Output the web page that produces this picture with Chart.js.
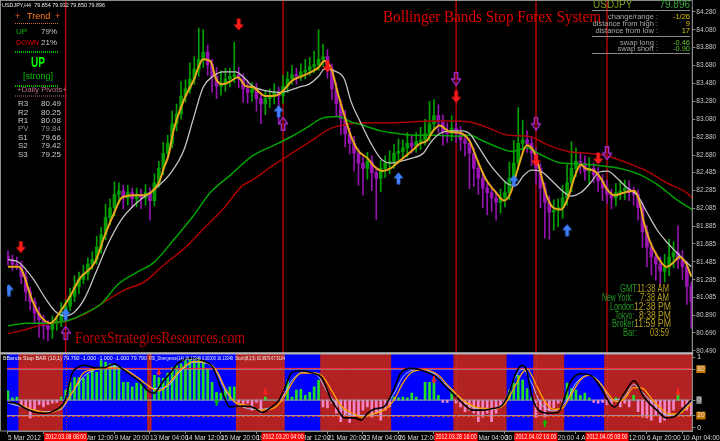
<!DOCTYPE html>
<html lang="en">
<head>
  <meta charset="UTF-8">
  <title>Bollinger Bands Stop Forex System</title>
  <style>
    html, body { margin: 0; padding: 0; background: #000; }
    #wrap { width: 720px; height: 441px; }
  </style>
  <script src="https://cdn.jsdelivr.net/npm/chart.js"></script>
</head>
<body>
  <div id="wrap"><canvas id="fx"></canvas></div>
  <script>
    // USDJPY H4, one value per bar (bar 0 = 5 Mar 2012 20:00)
    const firstOpen = 81.55;
    const closes = [
      81.51, 81.46, 81.45, 81.32, 81.15, 81.04, 80.91, 80.84, 80.77, 80.73,
      80.80, 80.82, 80.93, 80.99, 81.10, 81.21, 81.29, 81.35, 81.46, 81.51,
      81.65, 81.79, 81.98, 82.09, 82.24, 82.28, 82.20, 82.26, 82.19, 82.24,
      82.20, 82.26, 82.17, 82.37, 82.53, 82.70, 82.81, 83.03, 83.14, 83.34,
      83.42, 83.53, 83.64, 83.75, 83.83, 83.69, 83.56, 83.45, 83.47, 83.53,
      83.56, 83.58, 83.53, 83.42, 83.38, 83.42, 83.31, 83.25, 83.31, 83.34,
      83.38, 83.34, 83.45, 83.53, 83.58, 83.56, 83.61, 83.63, 83.67, 83.69,
      83.75, 83.78, 83.64, 83.42, 83.25, 83.09, 82.92, 82.81, 82.70, 82.59,
      82.53, 82.61, 82.48, 82.42, 82.53, 82.59, 82.61, 82.70, 82.72, 82.76,
      82.81, 82.78, 82.83, 82.85, 82.92, 83.03, 83.12, 83.05, 82.94, 82.92,
      82.98, 82.92, 82.85, 82.81, 82.70, 82.53, 82.42, 82.31, 82.26, 82.20,
      82.15, 82.20, 82.26, 82.42, 82.59, 82.81, 82.85, 82.81, 82.70, 82.53,
      82.31, 82.15, 82.04, 82.06, 82.09, 82.20, 82.37, 82.53, 82.61, 82.59,
      82.50, 82.53, 82.46, 82.39, 82.31, 82.24, 82.20, 82.26, 82.28, 82.31,
      82.26, 82.24, 82.09, 81.82, 81.65, 81.54, 81.46, 81.38, 81.43, 81.54,
      81.59, 81.51, 81.43, 81.21, 81.04
    ];
    // wick lengths beyond the body, in pips
    const wickUp = [
      6, 5, 8, 4, 6, 5, 4, 7, 5, 6,   8, 6, 10, 7, 9, 12, 8, 10, 7, 9,
      12, 8, 15, 10, 14, 9, 6, 8, 5, 7,   6, 9, 5, 10, 8, 12, 9, 14, 11, 16,
      10, 18, 14, 35, 25, 8, 6, 10, 15, 12,   9, 36, 8, 6, 10, 7, 6, 5, 9, 8,
      10, 6, 12, 8, 10, 7, 9, 12, 10, 15,   33, 14, 8, 6, 7, 5, 9, 6, 8, 5,
      7, 10, 6, 5, 9, 8, 12, 10, 14, 9,   12, 8, 10, 14, 16, 25, 18, 12, 8, 10,
      14, 9, 8, 6, 5, 6, 7, 8, 6, 5,   7, 10, 12, 18, 25, 40, 22, 10, 8, 6,
      5, 6, 7, 12, 10, 14, 20, 30, 15, 10,   8, 12, 6, 8, 7, 9, 6, 10, 12, 9,
      8, 6, 5, 6, 7, 5, 6, 8, 14, 20,   12, 30, 10, 6, 5
    ];
    const wickDn = [
      6, 7, 5, 8, 10, 9, 12, 20, 15, 13,   10, 8, 6, 7, 5, 6, 8, 5, 7, 6,
      5, 7, 6, 8, 9, 10, 12, 8, 10, 9,   12, 8, 22, 6, 5, 7, 6, 5, 8, 6,
      7, 5, 6, 8, 9, 12, 18, 14, 10, 8,   9, 7, 10, 15, 12, 10, 14, 22, 12, 10,
      9, 31, 8, 7, 6, 9, 5, 8, 6, 7,   6, 8, 10, 12, 14, 18, 15, 12, 20, 25,
      30, 12, 20, 46, 15, 10, 12, 8, 9, 7,   10, 8, 7, 9, 6, 8, 7, 12, 15, 10,
      8, 10, 12, 14, 40, 20, 18, 22, 25, 15,   20, 12, 10, 8, 9, 7, 8, 10, 14, 18,
      22, 40, 30, 20, 18, 12, 8, 10, 9, 12,   10, 15, 9, 12, 14, 10, 12, 9, 8, 10,
      9, 12, 14, 18, 22, 20, 18, 15, 12, 10,   12, 10, 14, 20, 30
    ];

    // moving averages, [bar, price]
    const fastMA = [[0,81.43],[2.4,81.43],[5.6,81.04],[7.3,80.88],[9.6,80.80],[11.8,80.93],[14,81.10],[16.2,81.30],[19.6,81.48],[21.8,81.78],[24,82.04],[25.6,82.20],[28.4,82.23],[30.7,82.23],[32.2,82.26],[34,82.37],[35.1,82.53],[36.2,82.68],[37.3,82.95],[39.6,83.29],[41.8,83.51],[44,83.75],[45.6,83.73],[46.9,83.53],[48.4,83.47],[50,83.50],[51.8,83.55],[53.6,83.45],[55.1,83.44],[58,83.34],[59.6,83.34],[61.1,83.36],[62.4,83.42],[64,83.51],[66.2,83.56],[68.4,83.61],[70,83.66],[71.3,83.73],[72.9,83.64],[74.4,83.36],[76.2,83.06],[77.3,82.89],[78.9,82.73],[81.1,82.64],[82.4,82.56],[84.4,82.50],[86.2,82.53],[88.4,82.62],[91.1,82.73],[92.9,82.81],[94.4,82.84],[95.8,82.95],[97.3,83.01],[99.6,82.94],[101.8,82.93],[104,82.84],[105.8,82.62],[107.8,82.40],[110,82.26],[111.8,82.17],[113.3,82.26],[115.1,82.56],[116.9,82.79],[118.4,82.73],[119.6,82.56],[121.3,82.24],[122.9,82.09],[124.7,82.07],[126.2,82.20],[127.8,82.45],[129.1,82.57],[130.2,82.53],[132.2,82.50],[133.6,82.42],[135.1,82.29],[136.7,82.23],[138.9,82.26],[141.1,82.28],[142.2,82.18],[143.3,81.93],[144.7,81.71],[146.2,81.56],[148.4,81.43],[150,81.48],[151.3,81.54],[152.9,81.46],[154,81.32]];
    const slowMA = [[0,81.51],[2.4,81.48],[5.6,81.30],[8.4,81.08],[10.7,80.93],[12.9,80.88],[15.1,80.93],[17.3,81.08],[19.6,81.34],[22.4,81.67],[25.6,81.96],[29.1,82.15],[32.9,82.29],[36.7,82.48],[39.6,82.73],[41.8,83.09],[44,83.44],[46.2,83.56],[48.4,83.61],[51.3,83.61],[52.9,83.56],[55.1,83.45],[58,83.40],[61.1,83.38],[63.3,83.40],[65.6,83.44],[67.8,83.47],[70,83.56],[71.3,83.64],[73.6,83.62],[75.8,83.53],[77.3,83.28],[79.6,83.03],[81.8,82.81],[84,82.64],[86.2,82.59],[88.4,82.61],[90.7,82.64],[93.6,82.70],[95.1,82.81],[97.3,82.92],[99.6,82.95],[102.4,82.95],[104,82.92],[106.2,82.76],[108.4,82.59],[110.7,82.45],[112.9,82.35],[114.4,82.34],[116.2,82.45],[118,82.51],[120,82.50],[122.4,82.40],[124.7,82.29],[126.9,82.22],[129.1,82.26],[131.3,82.37],[133.3,82.49],[135.1,82.50],[137.3,82.42],[139.6,82.31],[141.8,82.23],[144,82.04],[146.2,81.85],[148.4,81.71],[150.7,81.59],[152.9,81.48],[154,81.43]];
    const trendMA = [[0,80.77],[4,80.80],[8.4,80.80],[12.9,80.82],[17.3,80.91],[21.1,81.02],[24.7,81.23],[29.1,81.37],[32.9,81.48],[37.3,81.73],[41.8,82.00],[45.6,82.26],[50,82.45],[55.1,82.67],[59.6,82.78],[64,82.89],[67.8,83.00],[70.7,83.09],[74.4,83.11],[77.3,83.05],[80.2,83.01],[84,82.95],[87.8,82.92],[92.2,82.90],[96.7,82.90],[101.1,82.89],[104,82.90],[106.9,82.84],[110.7,82.76],[113.6,82.72],[116.9,82.76],[120.2,82.68],[124.7,82.59],[129.1,82.58],[133.6,82.56],[138,82.53],[142.4,82.46],[146.9,82.33],[150.7,82.18],[154.2,82.07]];
    const longMA = [[0,80.68],[4,80.73],[8.4,80.79],[12.9,80.82],[17.3,80.90],[21.8,81.04],[26.2,81.17],[30.7,81.26],[35.1,81.45],[39.6,81.63],[44,81.85],[48.4,82.07],[52.9,82.34],[55.1,82.40],[59.6,82.56],[64,82.70],[68.4,82.84],[72.9,82.98],[77.3,83.03],[81.8,83.04],[86.2,83.04],[90.7,83.05],[95.1,83.06],[99.6,83.06],[104,83.05],[108.4,82.98],[112.9,82.90],[117.3,82.89],[121.8,82.79],[126.2,82.72],[130.7,82.70],[135.1,82.67],[139.6,82.59],[144,82.50],[148.4,82.37],[152.9,82.26],[154.2,82.20]];

    // signal arrows, [bar, price]
    const sellArrows = [[2.9,81.65],[52,84.14],[72,83.67],[101,83.33],[119,82.62],[133,82.64]];
    const buyArrows = [[0.2,81.17],[13,80.90],[61,83.17],[88,82.42],[114,82.39],[126,81.84]];
    const exitUp = [[13,80.69],[62,83.03]];
    const exitDown = [[101,83.53],[119,83.03],[135,82.70]];

    // lower window: trend zones (b = blue, r = red) as runs of bars
    const zoneColor = ['b','r','b','r','b','r','b','r','b','r','b','r','b','r'];
    const zoneLen   = [3, 10, 19, 1, 19, 11, 8, 16, 14, 12, 6, 7, 9, 20];
    const histBase = 40;
    const hist = [
      12, 3, 4, -6, -10, -23, -13, -6, -9, -6,   -4, -3, 4, 13, 23, 29, 29, 28, 33, 41,
      36, 51, 49, 47, 45, 42, 23, 23, 17, 22,   23, 15, 0, 32, 29, 28, 35, 42, 45, 47,
      51, 54, 51, 54, 51, 41, 23, 10, 9, 13,   17, 17, -3, -6, -4, -13, -3, -17, 4, 0,
      0, 0, -1, 26, 4, 13, 14, 6, 10, 17,   26, -9, -10, -4, -17, -28, -19, -29, -22, -19,
      -13, -9, -22, -17, -26, -13, -9, 4, 3, 4,   3, 9, 4, 0, 23, 23, 28, 6, -3, -3,
      13, -4, -9, -15, -13, -17, -28, -22, -17, -28,   -17, -9, -4, 13, 22, 32, 26, 15, 4, -22,
      -13, -22, -13, -10, -4, -3, 22, 15, 13, 6,   9, 3, -3, -4, -3, -6, -6, 3, -9, -4,
      -9, 6, -15, -22, -23, -26, -19, -29, -26, -23,   -13, 9, -9, -13, -19
    ];
    const stochMain = [[0,37],[1.8,36],[4,29],[6.2,24],[8.4,23],[10.7,27],[12.9,40],[14.4,74],[15.6,82],[17.3,85],[19.6,82],[21.8,82],[24,87],[25.6,81],[27.8,72],[30,62],[31.3,53],[32.9,49],[34.7,62],[36.7,76],[38.4,88],[41.1,94],[44,91],[46.2,82],[48.4,49],[50,31],[51.3,32],[54.4,32],[55.8,29],[57.3,24],[58.9,29],[61.1,40],[62.4,56],[64,76],[66.2,78],[69.1,74],[70.7,69],[72.9,40],[74.4,27],[75.8,17],[78,17],[79.6,14],[81.1,23],[82.9,29],[84.7,31],[86.9,53],[88.4,74],[90.7,81],[93.6,78],[96.7,69],[98.9,56],[100.2,49],[102.4,36],[104.7,27],[106.9,27],[109.1,29],[111.3,33],[112.9,49],[114.4,74],[115.8,85],[116.9,78],[118,46],[119.6,27],[121.8,23],[124,24],[125.6,46],[126.9,65],[129.1,74],[131.3,72],[133.6,56],[135.1,40],[136.7,31],[138.9,49],[141.1,65],[143.3,44],[146.2,27],[148.4,17],[150,18],[151.8,27],[154,40]];
    const stochSignal = [[0,38],[3,33],[6,27],[9,24],[12,30],[15,55],[17,75],[20,80],[23,82],[26,80],[29,70],[32,57],[34,52],[36,60],[39,80],[42,90],[45,88],[47,78],[49,55],[51,38],[54,33],[57,27],[60,30],[62,42],[64,62],[66,75],[69,75],[71,70],[73,52],[75,33],[78,22],[80,18],[82,22],[85,28],[87,40],[89,62],[91,76],[94,79],[97,72],[99,60],[101,48],[103,38],[106,30],[109,29],[112,35],[114,55],[116,76],[117,80],[119,60],[121,38],[123,28],[125,30],[127,48],[129,66],[131,72],[133,65],[135,50],[137,38],[139,42],[141,56],[143,55],[145,42],[147,30],[149,22],[151,22],[153,30],[154,36]];
    const rsiLine = [[0,36],[4,30],[8,25],[12,28],[14,45],[17,70],[20,80],[24,84],[27,78],[30,66],[33,55],[36,58],[39,78],[42,89],[45,87],[47,76],[49,52],[52,34],[56,28],[59,30],[62,45],[64,66],[67,76],[70,70],[72,50],[75,30],[78,20],[81,20],[84,28],[87,48],[89,70],[92,79],[96,74],[99,58],[102,42],[105,30],[109,28],[112,40],[114,66],[116,80],[118,62],[120,36],[123,26],[126,40],[128,62],[131,72],[134,58],[136,40],[139,45],[141,60],[143,50],[146,32],[149,20],[152,26],[154,38]];
    const osMarkRed = [[34,76],[58,50],[96,66],[151,50]];
    const osMarkGreen = [[47,37],[121,10]];
    const osLevels = [80, 40, 20];

    // axes
    const priceTicks = [84.28, 84.08, 83.88, 83.68, 83.48, 83.28, 83.08, 82.88, 82.68, 82.485,
                        82.285, 82.085, 81.885, 81.685, 81.485, 81.285, 81.085, 80.89, 80.69, 80.49];
    const priceTickText = ['84.280','84.080','83.880','83.680','83.480','83.280','83.080','82.880','82.680','82.485',
                           '82.285','82.085','81.885','81.685','81.485','81.285','81.085','80.890','80.690','80.490'];
    const osTicks = [95, 80, 40, 20, 4];
    const osTickText = ['1', '80', '0', '20', '0'];
    const osTickBox = ['', '#c87800', '#7a7a7a', '#c87800', ''];
    const xTickIdx = [0, 8, 16, 24, 32, 40, 48, 56, 64, 72, 80, 88, 96, 104, 112, 120, 128, 136, 144, 152];
    const xTickText = ['5 Mar 2012', '7 Mar 04:00', '8 Mar 12:00', '9 Mar 20:00', '13 Mar 04:00', '14 Mar 12:00',
                       '15 Mar 20:00', '19 Mar 04:00', '20 Mar 12:00', '21 Mar 20:00', '23 Mar 04:00', '26 Mar 12:00',
                       '27 Mar 20:00', '29 Mar 04:00', '30 Mar 12:00', '2 Apr 20:00', '4 Apr 04:00', '5 Apr 12:00',
                       '6 Apr 20:00', '10 Apr 04:00'];
    const markIdx = [13, 62, 101, 119, 135];
    const markText = ['2012.03.08 08:00', '2012.03.20 04:00', '2012.03.28 16:00', '2012.04.02 16:00', '2012.04.05 08:00'];

    const xMin = -0.22, xMax = 154.22;

    // ---- build datasets ----
    const opens = closes.map((c, i) => i === 0 ? firstOpen : closes[i - 1]);
    const isBull = closes.map((c, i) => c >= opens[i]);
    const bodies = closes.map((c, i) => ({ x: i, y: [opens[i], c] }));
    const wicks = closes.map((c, i) => ({
      x: i,
      y: [Math.min(opens[i], c) - wickDn[i] / 100, Math.max(opens[i], c) + wickUp[i] / 100]
    }));

    const zoneOfBar = [];
    zoneColor.forEach((z, k) => { for (let n = 0; n < zoneLen[k]; n++) zoneOfBar.push(z); });

    const toXY = arr => arr.map(([x, y]) => ({ x, y }));

    function arrowImage(up, color, hollow, w, h) {
      const c = document.createElement('canvas');
      c.width = w; c.height = h;
      const g = c.getContext('2d');
      const s = w / 12, t = h / 14;
      const pts = [[4, 0.5], [8, 0.5], [8, 7], [11.5, 7], [6, 13.5], [0.5, 7], [4, 7]];
      g.beginPath();
      pts.forEach(([px, py], k) => {
        const yy = (up ? 14 - py : py) * t;
        if (k) g.lineTo(px * s, yy); else g.moveTo(px * s, yy);
      });
      g.closePath();
      if (hollow) { g.strokeStyle = color; g.lineWidth = 1.4; g.stroke(); }
      else { g.fillStyle = color; g.fill(); }
      return c;
    }
    const imgSell = arrowImage(false, '#ff1a1a', false, 11, 13);
    const imgBuy = arrowImage(true, '#3f7fff', false, 11, 13);
    const imgExitUp = arrowImage(true, '#a52ac8', true, 10, 14);
    const imgExitDn = arrowImage(false, '#a52ac8', true, 10, 14);
    const imgSmallRed = arrowImage(false, '#ff2020', false, 6, 8);
    const imgSmallGreen = arrowImage(true, '#00c000', false, 6, 8);

    const marks = (data, img, axis) => ({
      type: 'line', data: toXY(data), yAxisID: axis, showLine: false,
      pointStyle: img, pointRadius: 6, order: 5
    });
    const maLine = (data, color, width, order) => ({
      type: 'line', data: toXY(data), yAxisID: 'y', borderColor: color, borderWidth: width,
      pointRadius: 0, cubicInterpolationMode: 'monotone', order
    });
    const osLine = (data, color, width, order) => ({
      type: 'line', data: toXY(data), yAxisID: 'y2', borderColor: color, borderWidth: width,
      pointRadius: 0, cubicInterpolationMode: 'monotone', order
    });

    const datasets = [
      // lower window
      {
        type: 'bar', yAxisID: 'y2', grouped: false, order: 100, barThickness: 5,
        data: zoneOfBar.map((z, i) => ({ x: i, y: [0, 101] })),
        backgroundColor: zoneOfBar.map(z => z === 'b' ? '#0000fe' : '#b22222')
      },
      {
        type: 'bar', yAxisID: 'y2', grouped: false, order: 90, barThickness: 2,
        data: hist.map((v, i) => ({ x: i, y: [histBase, histBase + v] })),
        backgroundColor: hist.map(v => v >= 0 ? '#22e022' : '#f285c8')
      },
      ...osLevels.map(L => ({
        type: 'line', yAxisID: 'y2', data: [{ x: xMin, y: L }, { x: xMax, y: L }],
        borderColor: '#9c9cb4', borderWidth: 1, pointRadius: 0, order: 88
      })),
      {
        type: 'line', yAxisID: 'y2', data: [{ x: xMin, y: 81 }, { x: xMax, y: 81 }],
        borderColor: '#ff2a2a', borderWidth: 1, pointRadius: 0, order: 87
      },
      {
        type: 'line', yAxisID: 'y2', data: [{ x: xMin, y: 19 }, { x: xMax, y: 19 }],
        borderColor: '#ff5a00', borderWidth: 1, borderDash: [3, 2], pointRadius: 0, order: 87
      },
      osLine(rsiLine, '#a8c8ff', 1, 82),
      osLine(stochSignal, '#ffa000', 1.3, 81),
      osLine(stochMain, '#000000', 1.6, 80),
      marks(osMarkRed, imgSmallRed, 'y2'),
      marks(osMarkGreen, imgSmallGreen, 'y2'),
      // price window
      {
        type: 'bar', yAxisID: 'y', grouped: false, order: 70, barThickness: 1,
        data: wicks, backgroundColor: isBull.map(b => b ? '#00a000' : '#9412ae')
      },
      {
        type: 'bar', yAxisID: 'y', grouped: false, order: 60, barThickness: 3,
        data: bodies, backgroundColor: isBull.map(b => b ? '#009c00' : '#9a14b4')
      },
      maLine(longMA, '#a80000', 1.5, 54),
      maLine(trendMA, '#00a400', 1.5, 53),
      maLine(slowMA, '#c4c4c4', 1.3, 52),
      maLine(fastMA, '#e8a81c', 2, 51),
      marks(exitUp, imgExitUp, 'y'),
      marks(exitDown, imgExitDn, 'y'),
      marks(sellArrows, imgSell, 'y'),
      marks(buyArrows, imgBuy, 'y')
    ];

    // ---- overlays drawn on the canvas ----
    function txt(ctx, s, x, y, color, font, align, maxW) {
      ctx.font = font;
      ctx.fillStyle = color;
      ctx.textAlign = align || 'left';
      ctx.textBaseline = 'middle';
      if (maxW) ctx.fillText(s, x, y, maxW); else ctx.fillText(s, x, y);
    }
    function hline(ctx, x1, x2, y, color, width, dash) {
      ctx.save();
      ctx.strokeStyle = color; ctx.lineWidth = width; ctx.setLineDash(dash || []);
      ctx.beginPath(); ctx.moveTo(x1, y); ctx.lineTo(x2, y); ctx.stroke();
      ctx.restore();
    }

    const SANS = '"Liberation Sans", Arial, sans-serif';
    const SERIF = '"Liberation Serif", "Times New Roman", serif';

    const terminal = {
      id: 'terminal',
      beforeDraw(chart) {
        const { ctx, width, height } = chart;
        ctx.save();
        ctx.fillStyle = '#000';
        ctx.fillRect(0, 0, width, height);
        ctx.restore();
      },
      beforeDatasetsDraw(chart) {
        const { ctx, scales: { x, y } } = chart;
        ctx.save();
        ctx.strokeStyle = '#b40000';
        ctx.lineWidth = 1.5;
        markIdx.forEach(i => {
          const px = x.getPixelForValue(i);
          ctx.beginPath(); ctx.moveTo(px, 0); ctx.lineTo(px, y.bottom); ctx.stroke();
        });
        ctx.restore();
      },
      afterDatasetsDraw(chart) {
        const { ctx, scales: { x, y, y2 } } = chart;
        ctx.save();
        ctx.strokeStyle = '#e03030';
        ctx.lineWidth = 1;
        ctx.setLineDash([1, 2]);
        markIdx.forEach(i => {
          const px = Math.round(x.getPixelForValue(i)) + 0.5;
          ctx.beginPath(); ctx.moveTo(px, y2.top + 2); ctx.lineTo(px, y2.bottom); ctx.stroke();
        });
        ctx.setLineDash([]);
        // pane frames
        ctx.strokeStyle = '#8c8c8c';
        ctx.strokeRect(0.5, 0.5, x.right - 0.5, y.bottom - 0.5);
        ctx.strokeRect(0.5, y2.top + 0.5, x.right - 0.5, y2.bottom - y2.top - 0.5);
        ctx.fillStyle = '#b8b8b8';
        ctx.fillRect(0, y.bottom - 0.5, x.right + 1, 2);
        ctx.restore();
      },
      afterDraw(chart) {
        const { ctx, scales: { x, y2 } } = chart;
        ctx.save();

        // symbol line
        txt(ctx, 'USDJPY,H4  79.854 79.932 79.850 79.896', 2, 5, '#e8e8e8', '6px ' + SANS, 'left', 103);

        // trend panel
        txt(ctx, '+', 15, 17, '#ff5020', '9px ' + SANS);
        txt(ctx, 'Trend', 27, 17, '#ff7f1e', '9px ' + SANS);
        txt(ctx, '+', 55, 17, '#ff5020', '9px ' + SANS);
        hline(ctx, 15, 59, 23.5, '#d06a30', 1, [1, 1]);
        txt(ctx, 'UP', 16, 32, '#00b400', '8px ' + SANS);
        txt(ctx, '79%', 57, 32, '#c8c8c8', '8px ' + SANS, 'right', 16);
        txt(ctx, 'DOWN', 16, 43, '#e00000', '8px ' + SANS, 'left', 23);
        txt(ctx, '21%', 57, 43, '#c8c8c8', '8px ' + SANS, 'right', 16);
        hline(ctx, 15, 59, 52, '#00b400', 2, [1, 1]);
        txt(ctx, 'UP', 38, 63, '#00ff00', 'bold 14px ' + SANS, 'center', 14);
        txt(ctx, '[strong]', 38, 77, '#00c000', '9px ' + SANS, 'center', 30);
        hline(ctx, 15, 59, 86, '#00b400', 2, [1, 1]);
        txt(ctx, '+Daily Pivots+', 17, 90, '#b86c8c', '8px ' + SANS, 'left', 50);
        hline(ctx, 15, 67, 96, '#b86c8c', 1, [1, 1]);
        const piv = [['R3', '80.49'], ['R2', '80.25'], ['R1', '80.08'], ['PV', '79.84'],
                     ['S1', '79.66'], ['S2', '79.42'], ['S3', '79.25']];
        piv.forEach(([k, v], n) => {
          const c = k === 'PV' ? '#8c8c8c' : '#cacaca';
          const yy = 104 + n * 8.4;
          txt(ctx, k, 18, yy, c, '8px ' + SANS);
          txt(ctx, v, 41, yy, c, '8px ' + SANS);
        });

        // titles
        txt(ctx, 'Bollinger Bands Stop Forex System', 383, 18, '#e00000', '16px ' + SERIF, 'left', 218);
        txt(ctx, 'ForexStrategiesResources.com', 75, 339, '#c40000', '16px ' + SERIF, 'left', 170);

        // market info panel
        txt(ctx, 'USDJPY', 593, 5, '#7c9c24', '10px ' + SANS);
        txt(ctx, '79.896', 690, 5, '#3ca83c', '10px ' + SANS, 'right');
        hline(ctx, 592, 690, 10.5, '#8a8a8a', 1);
        const info = [['change/range :', '-1/26', '#e0c000', 17], ['distance from high :', '9', '#e0c000', 24],
                      ['distance from low :', '17', '#c8c820', 31], ['swap long :', '-0.46', '#60c030', 43],
                      ['swap short :', '-0.90', '#60c030', 49]];
        info.forEach(([k, v, c, yy]) => {
          txt(ctx, k, 658, yy, '#a8a8a8', '7.5px ' + SANS, 'right');
          txt(ctx, v, 690, yy, c, '7.5px ' + SANS, 'right');
        });
        hline(ctx, 592, 690, 36.5, '#8a8a8a', 1);
        hline(ctx, 592, 690, 53.5, '#8a8a8a', 1);

        // clocks: label, label end, label width, value, value start, value width, y
        const clocks = [['GMT', 637, 17, '11:38 AM', 637, 32, 289], ['New York:', 633, 31, '7:38 AM', 640, 29, 298],
                        ['London', 634, 24, '12:38 PM', 634, 37, 307], ['Tokyo:', 634, 19, '8:38 PM', 639, 32, 316],
                        ['Broker', 634, 22, '11:59 PM', 634, 37, 324], ['Bar:', 637, 14, '03:59', 650, 19, 333]];
        clocks.forEach(([k, kx, kw, v, vx, vw, yy]) => {
          txt(ctx, k, kx, yy, '#229a22', '10px ' + SANS, 'right', kw);
          txt(ctx, v, vx, yy, '#b89e1e', '10px ' + SANS, 'left', vw);
        });

        // indicator header
        const hy = y2.top + 5;
        txt(ctx, 'BBands Stop BAR (10,1) 79.790 -1.000 -1.000 -1.000 79.790', 3, hy, '#f0f0f0', '6px ' + SANS, 'left', 144);
        txt(ctx, 'RSI_Divergence(14) 16.13349 0.00000 16.13349', 149, hy, '#f0f0f0', '6px ' + SANS, 'left', 84);
        txt(ctx, 'Stoch(8,3,5) 63.9979 67.6104', 235, hy, '#f0f0f0', '6px ' + SANS, 'left', 50);

        // vertical line time stamps on the time axis
        markIdx.forEach((i, k) => {
          const px = x.getPixelForValue(i);
          ctx.fillStyle = '#ff0000';
          ctx.fillRect(px - 21.5, x.top + 1.5, 43, 8.5);
          txt(ctx, markText[k], px, x.top + 6, '#ffffff', '6.5px ' + SANS, 'center', 41);
        });
        ctx.restore();
      }
    };

    Chart.defaults.font.family = SANS;

    new Chart(document.getElementById('fx'), {
      type: 'bar',
      data: { datasets },
      options: {
        responsive: true,
        maintainAspectRatio: false,
        animation: false,
        devicePixelRatio: 1,
        events: [],
        layout: { padding: { top: 2, left: 1, right: 0, bottom: 0 } },
        plugins: { legend: { display: false }, tooltip: { enabled: false } },
        scales: {
          x: {
            type: 'linear', min: xMin, max: xMax, offset: false,
            grid: { offset: false, drawOnChartArea: false, drawTicks: true, tickLength: 3, color: '#8c8c8c' },
            border: { display: true, color: '#8c8c8c' },
            afterBuildTicks: s => { s.ticks = xTickIdx.map(v => ({ value: v })); },
            afterFit: s => { s.height = 10; },
            ticks: {
              autoSkip: false, maxRotation: 0, align: 'start', padding: 0,
              color: '#d8d8d8', font: { size: 6.5 },
              callback: (v, i) => xTickText[i]
            }
          },
          y: {
            type: 'linear', position: 'right', stack: 'pane', stackWeight: 350,
            min: 80.467, max: 84.335,
            grid: { drawOnChartArea: false, drawTicks: true, tickLength: 3, color: '#8c8c8c' },
            border: { display: true, color: '#8c8c8c' },
            afterBuildTicks: s => { s.ticks = priceTicks.map(v => ({ value: v })); },
            afterFit: s => { s.width = 24; },
            ticks: {
              autoSkip: false, padding: 1, color: '#c8c8c8', font: { size: 6.5 },
              callback: (v, i) => priceTickText[i]
            }
          },
          y2: {
            type: 'linear', position: 'right', stack: 'pane', stackWeight: 79,
            min: 0, max: 101,
            grid: { drawOnChartArea: false, drawTicks: true, tickLength: 3, color: '#8c8c8c' },
            border: { display: true, color: '#8c8c8c' },
            afterBuildTicks: s => { s.ticks = osTicks.map(v => ({ value: v })); },
            afterFit: s => { s.width = 24; },
            ticks: {
              autoSkip: false, padding: 2, color: '#e8e8e8', font: { size: 6.5 },
              showLabelBackdrop: true,
              backdropPadding: { top: 0, bottom: 0, left: 1, right: 1 },
              backdropColor: c => osTickBox[c.index] || 'rgba(0,0,0,0)',
              callback: (v, i) => osTickText[i]
            }
          }
        }
      },
      plugins: [terminal]
    });
  </script>
</body>
</html>
